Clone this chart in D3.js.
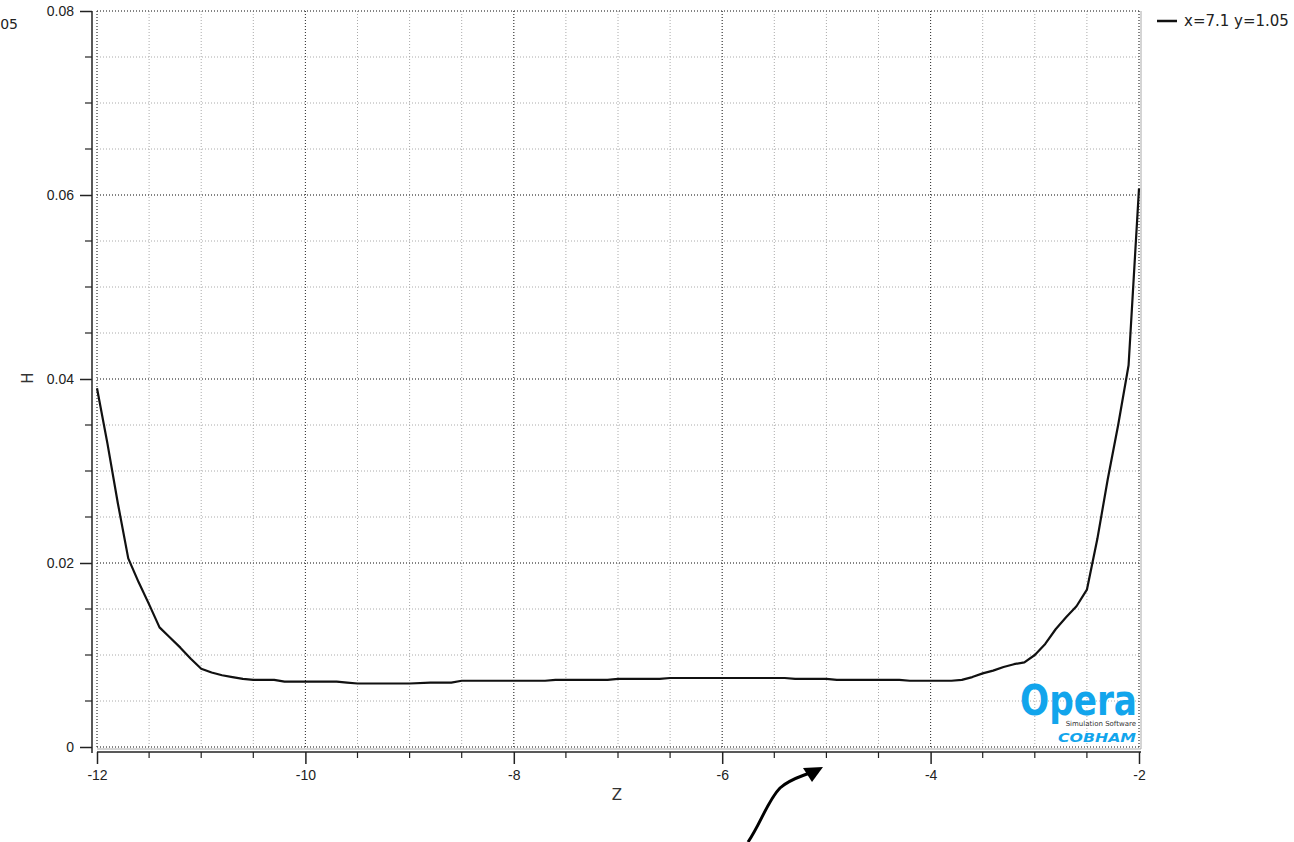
<!DOCTYPE html>
<meta charset="utf-8">
<style>
body { margin: 0; background: #fff; }
svg { font-family: "DejaVu Sans", sans-serif; }
.tick text { font-size: 14px; fill: #222; }
</style>
<svg width="1294" height="842"></svg>
<script src="https://cdn.jsdelivr.net/npm/d3@7"></script>
<script>

// field along the line x=7.1 y=1.05
var zVals = [-12, -11.9, -11.8, -11.7, -11.6, -11.5, -11.4, -11.3, -11.2, -11.1, -11.0,
  -10.9, -10.8, -10.7, -10.6, -10.5, -10.3, -10.2, -10.0, -9.7, -9.6, -9.5, -9.0,
  -8.8, -8.6, -8.5, -7.7, -7.6, -7.1, -7.0, -6.6, -6.5, -5.4, -5.3, -5.0, -4.9,
  -4.3, -4.2, -3.8, -3.7, -3.6, -3.5, -3.4, -3.3, -3.2, -3.1, -3.0, -2.9, -2.8,
  -2.7, -2.6, -2.5, -2.4, -2.3, -2.2, -2.1, -2.0];
var hVals = [0.0390, 0.0330, 0.0265, 0.0205, 0.0179, 0.0155, 0.0130, 0.0119, 0.0108, 0.0096, 0.0085,
  0.0081, 0.0078, 0.0076, 0.0074, 0.0073, 0.0073, 0.0071, 0.0071, 0.0071, 0.0070, 0.0069, 0.0069,
  0.0070, 0.0070, 0.0072, 0.0072, 0.0073, 0.0073, 0.0074, 0.0074, 0.0075, 0.0075, 0.0074, 0.0074, 0.0073,
  0.0073, 0.0072, 0.0072, 0.0073, 0.0076, 0.0080, 0.0083, 0.0087, 0.0090, 0.0092, 0.0100, 0.0112, 0.0128,
  0.0141, 0.0153, 0.0171, 0.0226, 0.0291, 0.0350, 0.0415, 0.0607];

var xTicks = [-12, -10, -8, -6, -4, -2];
var yTicks = [0, 0.02, 0.04, 0.06, 0.08];
var seriesName = "x=7.1 y=1.05";

var svg = d3.select("svg");
var pLeft = 97, pRight = 1139, pTop = 11, pBottom = 747;

var x = d3.scaleLinear().domain([-12, -2]).range([pLeft, pRight]);
var y = d3.scaleLinear().domain([0, 0.08]).range([pBottom, pTop]);

var xMinor = d3.range(-12, -1.99, 0.5);
var yMinor = d3.range(0, 0.0801, 0.005);

// minor grid
svg.append("g").selectAll("line").data(xMinor).enter().append("line")
    .attr("x1", d => x(d)).attr("x2", d => x(d)).attr("y1", pTop).attr("y2", pBottom)
    .attr("stroke", "#aaa").attr("stroke-dasharray", "1,2");
svg.append("g").selectAll("line").data(yMinor).enter().append("line")
    .attr("y1", d => y(d)).attr("y2", d => y(d)).attr("x1", pLeft).attr("x2", pRight)
    .attr("stroke", "#aaa").attr("stroke-dasharray", "1,2");

// major grid
svg.append("g").selectAll("line").data(xTicks).enter().append("line")
    .attr("x1", d => x(d)).attr("x2", d => x(d)).attr("y1", pTop).attr("y2", pBottom)
    .attr("stroke", "#333").attr("stroke-dasharray", "1,2");
svg.append("g").selectAll("line").data(yTicks).enter().append("line")
    .attr("y1", d => y(d)).attr("y2", d => y(d)).attr("x1", pLeft).attr("x2", pRight)
    .attr("stroke", "#333").attr("stroke-dasharray", "1,2");

// frame edges
svg.append("line").attr("x1", pLeft).attr("x2", pRight + 2).attr("y1", pBottom + 2).attr("y2", pBottom + 2)
    .attr("stroke", "#aaa");
svg.append("line").attr("x1", pRight + 2).attr("x2", pRight + 2).attr("y1", pTop).attr("y2", pBottom + 2)
    .attr("stroke", "#aaa");

// axes
var yAxis = svg.append("g").attr("transform", "translate(92,0)")
    .call(d3.axisLeft(y).tickValues(yTicks).tickSize(12).tickPadding(6)
      .tickFormat(d => d === 0 ? "0" : d.toFixed(2)));
yAxis.select(".domain").attr("stroke", "#222").attr("stroke-width", 1.5)
    .attr("d", "M0," + pTop + "V" + (pBottom + 6));
yAxis.selectAll(".tick line").attr("stroke", "#222").attr("stroke-width", 1.5);
svg.append("g").selectAll("line").data(yMinor.filter((d, i) => i % 4 != 0)).enter().append("line")
    .attr("x1", 85).attr("x2", 92).attr("y1", d => y(d)).attr("y2", d => y(d))
    .attr("stroke", "#222").attr("stroke-width", 1.2);

var xAxis = svg.append("g").attr("transform", "translate(0,752)")
    .call(d3.axisBottom(x).tickValues(xTicks).tickSize(12).tickPadding(6)
      .tickFormat(d => String(d)));
xAxis.select(".domain").attr("stroke", "#222").attr("stroke-width", 1.5)
    .attr("d", "M" + pLeft + ",0H" + (pRight + 2));
xAxis.selectAll(".tick line").attr("stroke", "#222").attr("stroke-width", 1.5);
svg.append("g").selectAll("line").data(xMinor.filter((d, i) => i % 4 != 0)).enter().append("line")
    .attr("x1", d => x(d)).attr("x2", d => x(d)).attr("y1", 752).attr("y2", 758)
    .attr("stroke", "#222").attr("stroke-width", 1.2);

// axis titles
svg.append("text").attr("x", 617).attr("y", 800).attr("text-anchor", "middle")
    .style("font-size", "15px").attr("fill", "#333").text("Z");
svg.append("text").attr("transform", "translate(33,378) rotate(-90)").attr("text-anchor", "middle")
    .style("font-size", "15px").attr("fill", "#333").text("H");
svg.append("text").attr("x", 18).attr("y", 29).attr("text-anchor", "end")
    .style("font-size", "14px").attr("fill", "#222").text(seriesName);

// curve
var pts = zVals.map((z, i) => [z, hVals[i]]);
svg.append("path").datum(pts)
    .attr("fill", "none").attr("stroke", "#111").attr("stroke-width", 2.2)
    .attr("stroke-linejoin", "round")
    .attr("d", d3.line().x(d => x(d[0])).y(d => y(d[1])));

// legend
svg.append("line").attr("x1", 1157).attr("x2", 1177).attr("y1", 21).attr("y2", 21)
    .attr("stroke", "#111").attr("stroke-width", 2.5);
svg.append("text").attr("x", 1184).attr("y", 26).style("font-size", "15px")
    .attr("fill", "#222").text(seriesName);

// logo
var logo = svg.append("g");
logo.append("text").attr("x", 1020).attr("y", 715)
    .style("font-size", "42px").style("font-weight", "bold").attr("fill", "#12a5ec")
    .attr("textLength", 117).attr("lengthAdjust", "spacingAndGlyphs").text("Opera");
logo.append("text").attr("x", 1136).attr("y", 726).attr("text-anchor", "end")
    .style("font-size", "7px").attr("fill", "#333").text("Simulation Software");
logo.append("text").attr("x", 1058).attr("y", 742)
    .style("font-size", "12px").style("font-weight", "bold").style("font-style", "italic")
    .attr("fill", "#12a5ec").attr("textLength", 78).attr("lengthAdjust", "spacingAndGlyphs")
    .text("COBHAM");

// pointer arrow
svg.append("path")
    .attr("d", "M748,842 C760,825 768,800 780,788 C790,779 800,777 812,772")
    .attr("fill", "none").attr("stroke", "#000").attr("stroke-width", 3);
svg.append("path").attr("d", "M823,767 L803,768 L812,782 Z").attr("fill", "#000");

</script>
